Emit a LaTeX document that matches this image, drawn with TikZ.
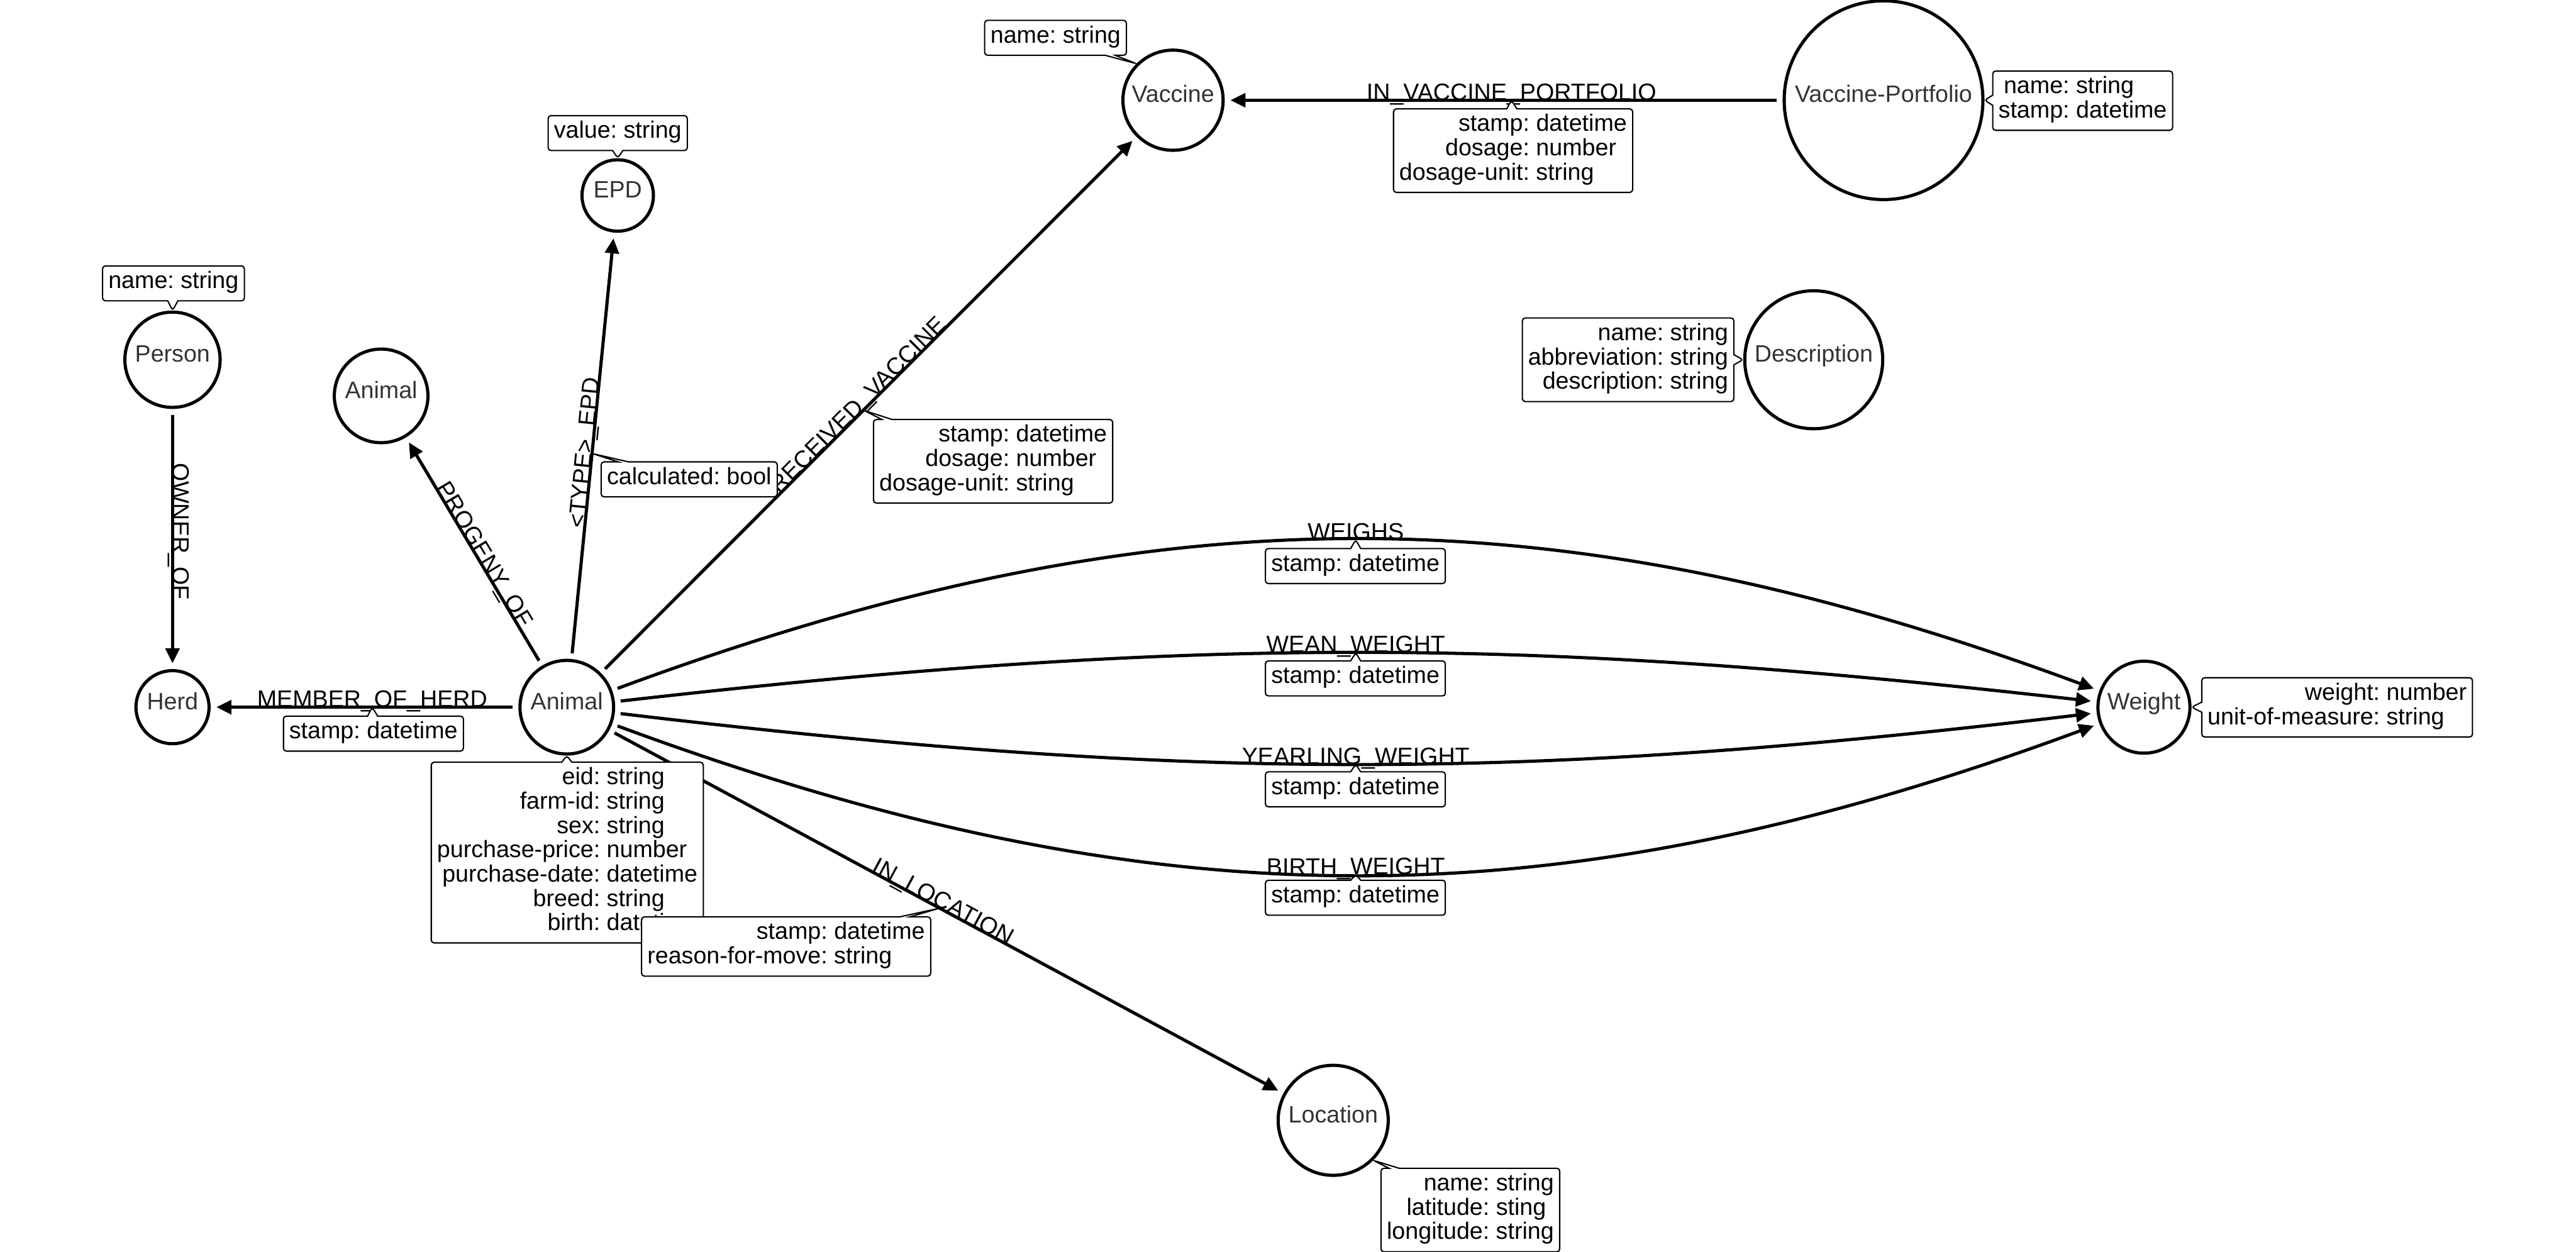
\documentclass[tikz,border=0pt]{standalone}
\usepackage{fontspec}
\setmainfont{Liberation Sans}
\usetikzlibrary{arrows.meta, shapes.callouts}

\definecolor{nodetext}{HTML}{333333}
\newcommand{\props}[1]{\begin{tabular}{@{}r@{:\ }l@{}}#1\end{tabular}}

\tikzset{
  entity/.style={circle, draw, line width=1.1pt, text=nodetext, inner sep=0pt, text height=6pt, text depth=4.5pt},
  rel/.style={line width=1.1pt, -{Triangle[length=5.2pt,width=4.8pt]}, shorten >=2pt, shorten <=2pt},
  rellabel/.style={sloped, anchor=base, inner sep=0pt},
  proptag/.style={rectangle callout, draw, fill=white, line width=0.45pt, rounded corners=1pt,
    inner xsep=2pt, inner ysep=1.85pt, callout pointer width=3.5pt}
}

\begin{document}
\begin{tikzpicture}[x=0.02cm, y=0.02cm, font=\fontsize{8.2}{8.25}\selectfont]
    \useasboundingbox (0,0) rectangle (1568,-762);

    % Entities
    \node[entity, minimum size=1.22cm] (vaccine) at (714,-61) {Vaccine};
    \node[entity, minimum size=2.42cm] (portfolio) at (1146.5,-61) {Vaccine-Portfolio};
    \node[entity, minimum size=0.87cm] (epd) at (376,-119) {EPD};
    \node[entity, minimum size=1.16cm] (person) at (105,-219) {Person};
    \node[entity, minimum size=1.14cm] (parent) at (232,-241) {Animal};
    \node[entity, minimum size=1.14cm] (animal) at (345,-430.5) {Animal};
    \node[entity, minimum size=0.89cm] (herd) at (105,-430.5) {Herd};
    \node[entity, minimum size=1.68cm] (description) at (1104,-219) {Description};
    \node[entity, minimum size=1.12cm] (weight) at (1305,-430.5) {Weight};
    \node[entity, minimum size=1.34cm] (location) at (811.5,-682) {Location};

    % Relationships
    \draw[rel] (person) -- node[pos=0.47, rotate=-90, anchor=base, inner sep=0pt] {OWNER\_OF} (herd);
    \draw[rel] (animal) -- node[rellabel, pos=0.475] {MEMBER\_OF\_HERD} coordinate[pos=0.475] (herdmid) (herd);
    \draw[rel] (animal) -- node[rellabel, pos=0.471] {PROGENY\_OF} (parent);
    \draw[rel] (animal) -- node[rellabel, pos=0.482] {\textless TYPE\textgreater\_EPD} coordinate[pos=0.482] (epdmid) (epd);
    \draw[rel] (animal) -- node[rellabel, pos=0.49] {RECEIVED\_VACCINE} coordinate[pos=0.49] (vaccinemid) (vaccine);
    \draw[rel] (portfolio) -- node[rellabel, pos=0.486] {IN\_VACCINE\_PORTFOLIO} coordinate[pos=0.486] (portfoliomid) (vaccine);
    \draw[rel] (animal) -- node[rellabel, pos=0.49] {IN\_LOCATION} coordinate[pos=0.49] (locationmid) (location);
    \draw[rel] (animal) to[bend left=20.3] node[rellabel, midway] {WEIGHS} coordinate[midway] (weighsmid) (weight);
    \draw[rel] (animal) to[bend left=6.5] node[rellabel, midway] {WEAN\_WEIGHT} coordinate[midway] (weanmid) (weight);
    \draw[rel] (animal) to[bend right=6.8] node[rellabel, midway] {YEARLING\_WEIGHT} coordinate[midway] (yearlingmid) (weight);
    \draw[rel] (animal) to[bend right=20.3] node[rellabel, midway] {BIRTH\_WEIGHT} coordinate[midway] (birthmid) (weight);

    % Entity properties
    \node[proptag, callout absolute pointer={(vaccine.135)}] (vaccineprops) at (642.5,-23) {\props{name & string}};
    \node[proptag, callout absolute pointer={(epd.north)}] (epdprops) at (376,-81) {\props{value & string}};
    \node[proptag, callout absolute pointer={(person.north)}] (personprops) at (105.6,-172.5) {\props{name & string}};
    \node[proptag, callout absolute pointer={(portfolio.east)}] (portfolioprops) at (1267.7,-61.3) {\props{name & string\\ stamp & datetime}};
    \node[proptag, callout absolute pointer={(description.west)}] (descriptionprops) at (991,-219) {\props{name & string\\ abbreviation & string\\ description & string}};
    \node[proptag, callout absolute pointer={(weight.east)}] (weightprops) at (1422.6,-430.6) {\props{weight & number\\ unit-of-measure & string}};
    \node[proptag, callout absolute pointer={(location.-45)}] (locationprops) at (895,-736.6) {\props{name & string\\ latitude & sting\\ longitude & string}};
    \node[proptag, callout absolute pointer={(animal.south)}] (animalprops) at (345.3,-519) {\props{eid & string\\ farm-id & string\\ sex & string\\ purchase-price & number\\ purchase-date & datetime\\ breed & string\\ birth & datetime}};

    % Relationship properties
    \node[proptag, callout absolute pointer={(herdmid)}] (herdtag) at (227.3,-446.6) {\props{stamp & datetime}};
    \node[proptag, callout absolute pointer={(portfoliomid)}] (portfoliotag) at (921,-91.7) {\props{stamp & datetime\\ dosage & number\\ dosage-unit & string}};
    \node[proptag, callout absolute pointer={(vaccinemid)}] (vaccinetag) at (604.5,-280.8) {\props{stamp & datetime\\ dosage & number\\ dosage-unit & string}};
    \node[proptag, callout absolute pointer={(epdmid)}] (epdtag) at (419.5,-291.8) {\props{calculated & bool}};
    \node[proptag, callout absolute pointer={(locationmid)}] (locationtag) at (478.5,-576.2) {\props{stamp & datetime\\ reason-for-move & string}};
    \node[proptag, callout absolute pointer={(weighsmid)}] (weighstag) at (825,-344.6) {\props{stamp & datetime}};
    \node[proptag, callout absolute pointer={(weanmid)}] (weantag) at (825,-413) {\props{stamp & datetime}};
    \node[proptag, callout absolute pointer={(yearlingmid)}] (yearlingtag) at (825,-480.5) {\props{stamp & datetime}};
    \node[proptag, callout absolute pointer={(birthmid)}] (birthtag) at (825,-546.5) {\props{stamp & datetime}};
\end{tikzpicture}
\end{document}
